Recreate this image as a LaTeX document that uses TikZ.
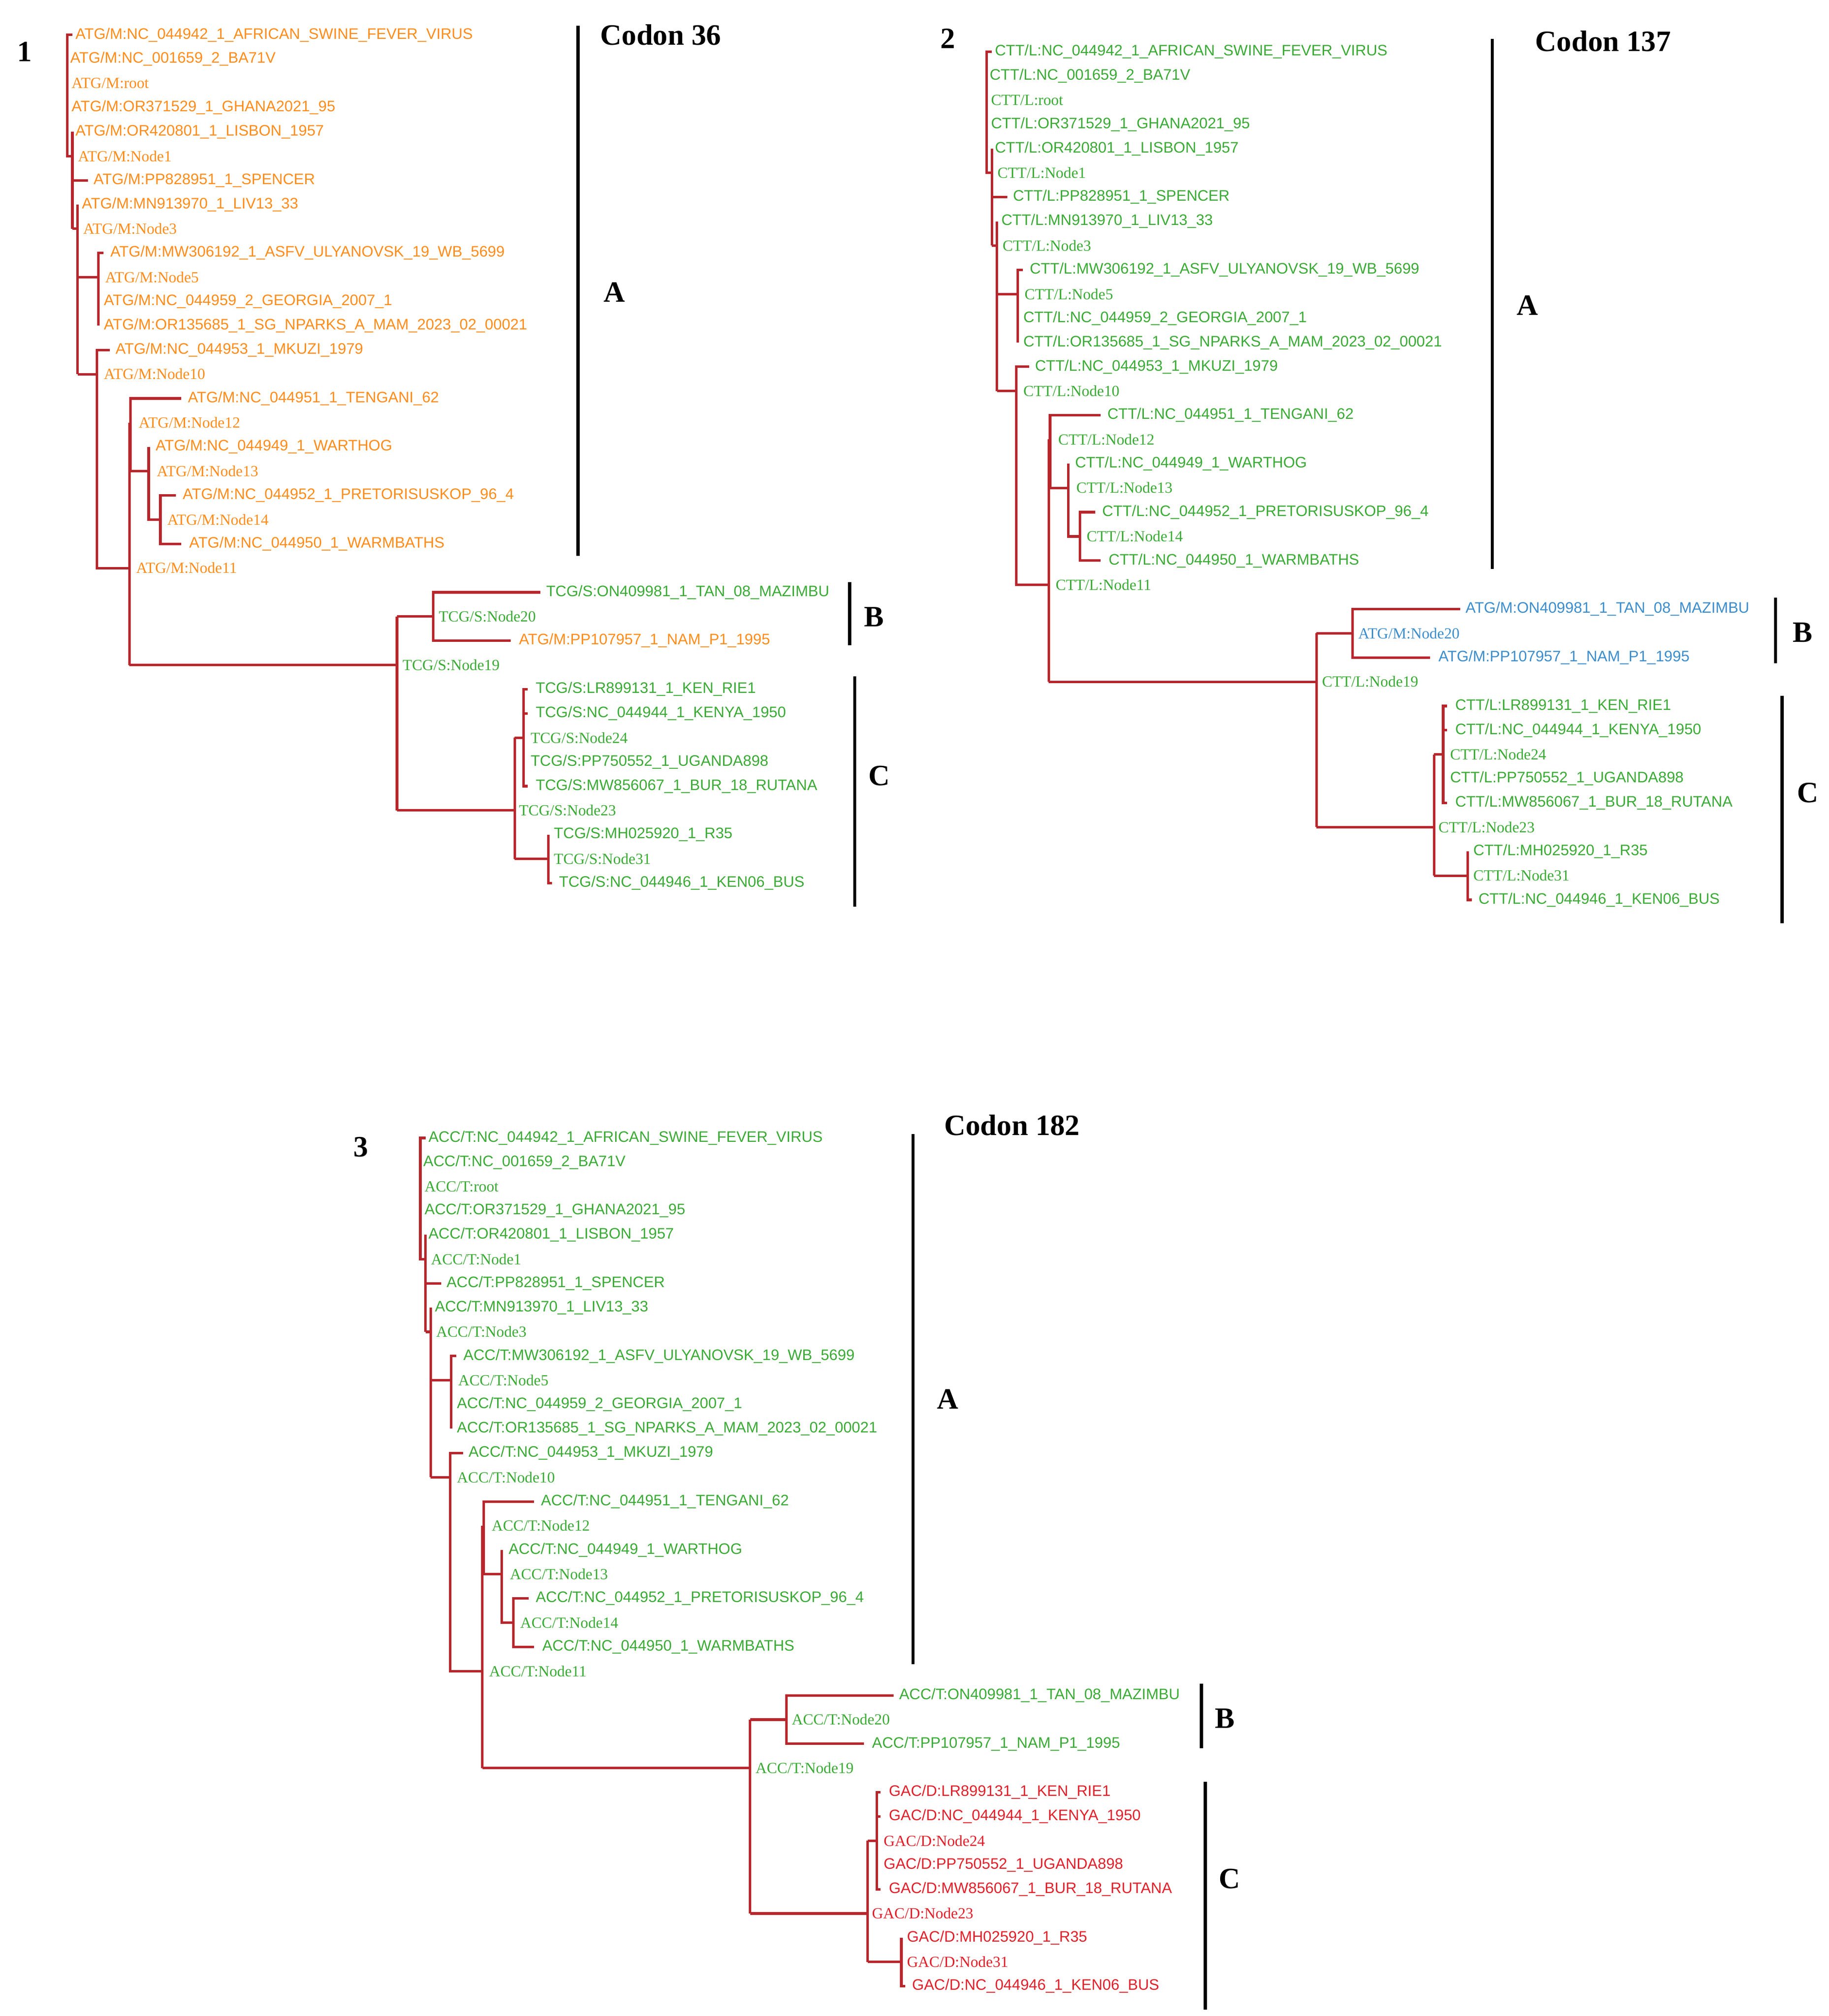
\documentclass[tikz,border=0pt]{standalone}
\usepackage{fontspec}
\setmainfont{Liberation Serif}
\newfontfamily\arialf{Liberation Sans}
\definecolor{orng}{HTML}{FF8C1A}
\definecolor{grn}{HTML}{3AAA35}
\definecolor{blu}{HTML}{3C8DCB}
\definecolor{rd}{HTML}{E0202A}
\definecolor{brc}{HTML}{B8262C}
\begin{document}
\begin{tikzpicture}[x=0.02cm,y=-0.02cm,
  br/.style={draw=brc,line width=1.1pt},
  bar/.style={draw=black,line width=1.4pt},
  lf/.style={anchor=west,inner sep=0pt,font=\arialf\fontsize{6.7}{8}\selectfont},
  nd/.style={anchor=west,inner sep=0pt,font=\fontsize{6.8}{8}\selectfont},
  big/.style={inner sep=0pt,font=\bfseries\fontsize{13}{15}\selectfont}]
\useasboundingbox (0,0) rectangle (1414,1559);
\newcommand\rr[1]{\fpeval{27+18.74*(#1)}}
\newcommand\branches{%
\draw[br] (56,\rr{0}) -| (52,\rr{5}) -- (56,\rr{5});
\draw[br] (56,\rr{4}) -- (56,\rr{8});
\draw[br] (56,\rr{6}) -- (68,\rr{6});
\draw[br] (56,\rr{8}) -- (60,\rr{8});
\draw[br] (60,\rr{7}) -- (60,\rr{14});
\draw[br] (60,\rr{10}) -- (76,\rr{10});
\draw[br] (80,\rr{9}) -| (76,\rr{12});
\draw[br] (60,\rr{14}) -- (75,\rr{14});
\draw[br] (85,\rr{13}) -| (75,\rr{22}) -- (100,\rr{22});
\draw[br] (100,\rr{16}) -- (100,\rr{26});
\draw[br] (140,\rr{15}) -| (101,\rr{18}) -- (115,\rr{18});
\draw[br] (115,\rr{17}) -- (115,\rr{20}) -- (124,\rr{20});
\draw[br] (136,\rr{19}) -| (124,\rr{21}) -- (140,\rr{21});
\draw[br] (100,\rr{26}) -- (307,\rr{26});
\draw[br] (307,\rr{24}) -- (307,\rr{32});
\draw[br] (307,\rr{24}) -- (335,\rr{24});
\draw[br] (418,\rr{23}) -| (335,\rr{25}) -- (395,\rr{25});
\draw[br] (307,\rr{32}) -- (398,\rr{32});
\draw[br] (398,\rr{29}) -- (398,\rr{34});
\draw[br] (398,\rr{29}) -- (405,\rr{29});
\draw[br] (408,\rr{27}) -| (405,\rr{31}) -- (408,\rr{31});
\draw[br] (405,\rr{28}) -- (408,\rr{28});
\draw[br] (398,\rr{34}) -- (424,\rr{34});
\draw[br] (424,\rr{33}) -- (424,\rr{35}) -- (427,\rr{35});
}
\def\labs{0/58/NC\_044942\_1\_AFRICAN\_SWINE\_FEVER\_VIRUS/l,1/54/NC\_001659\_2\_BA71V/l,2/55/root/n,3/55/OR371529\_1\_GHANA2021\_95/l,4/58/OR420801\_1\_LISBON\_1957/l,5/60/Node1/n,6/72/PP828951\_1\_SPENCER/l,7/63/MN913970\_1\_LIV13\_33/l,8/64/Node3/n,9/85/MW306192\_1\_ASFV\_ULYANOVSK\_19\_WB\_5699/l,10/81/Node5/n,11/80/NC\_044959\_2\_GEORGIA\_2007\_1/l,12/80/OR135685\_1\_SG\_NPARKS\_A\_MAM\_2023\_02\_00021/l,13/89/NC\_044953\_1\_MKUZI\_1979/l,14/80/Node10/n,15/145/NC\_044951\_1\_TENGANI\_62/l,16/107/Node12/n,17/120/NC\_044949\_1\_WARTHOG/l,18/121/Node13/n,19/141/NC\_044952\_1\_PRETORISUSKOP\_96\_4/l,20/129/Node14/n,21/146/NC\_044950\_1\_WARMBATHS/l,22/105/Node11/n,23/422/ON409981\_1\_TAN\_08\_MAZIMBU/l,24/339/Node20/n,25/401/PP107957\_1\_NAM\_P1\_1995/l,26/311/Node19/n,27/414/LR899131\_1\_KEN\_RIE1/l,28/414/NC\_044944\_1\_KENYA\_1950/l,29/410/Node24/n,30/410/PP750552\_1\_UGANDA898/l,31/414/MW856067\_1\_BUR\_18\_RUTANA/l,32/401/Node23/n,33/428/MH025920\_1\_R35/l,34/428/Node31/n,35/432/NC\_044946\_1\_KEN06\_BUS/l}
\newcommand\labels[2]{%
\foreach \i/\x/\nm/\ty in \labs {
  #2
  \pgfmathsetmacro\yy{27+18.74*\i}
  \if l\ty \node[lf,text=\col] (#1r\i) at (\x,\yy) {\pre:\nm};
  \else \node[nd,text=\col] (#1r\i) at (\x,\yy) {\pre:\nm};\fi
}}
\begin{scope}
\branches
\labels{a}{\ifnum\i<23 \def\pre{ATG/M}\def\col{orng}\else\ifnum\i=25 \def\pre{ATG/M}\def\col{orng}\else\def\pre{TCG/S}\def\col{grn}\fi\fi}
\end{scope}
\begin{scope}[shift={(711,13)}]
\branches
\labels{b}{\ifnum\i<23 \def\pre{CTT/L}\def\col{grn}\else\ifnum\i<26 \def\pre{ATG/M}\def\col{blu}\else\def\pre{CTT/L}\def\col{grn}\fi\fi}
\end{scope}
\begin{scope}[shift={(273,853)}]
\branches
\labels{c}{\ifnum\i<27 \def\pre{ACC/T}\def\col{grn}\else\def\pre{GAC/D}\def\col{rd}\fi}
\end{scope}
\node[big] (n1) at (19,40) {1};
\node[big,anchor=west] (h1) at (464,27) {Codon 36};
\coordinate (a1t) at (447,20); \coordinate (a1b) at (447,430); \draw[bar] (a1t)--(a1b);
\node[big] (A1) at (475,226) {A};
\coordinate (b1t) at (657,450); \coordinate (b1b) at (657,499); \draw[bar] (b1t)--(b1b);
\node[big] (B1) at (676,477) {B};
\coordinate (c1t) at (661,523); \coordinate (c1b) at (661,701); \draw[bar] (c1t)--(c1b);
\node[big] (C1) at (680,600) {C};
\node[big] (n2) at (733,30) {2};
\node[big,anchor=west] (h2) at (1187,32) {Codon 137};
\coordinate (a2t) at (1154,30); \coordinate (a2b) at (1154,440); \draw[bar] (a2t)--(a2b);
\node[big] (A2) at (1181,236) {A};
\coordinate (b2t) at (1373,462); \coordinate (b2b) at (1373,513); \draw[bar] (b2t)--(b2b);
\node[big] (B2) at (1394,489) {B};
\coordinate (c2t) at (1378,538); \coordinate (c2b) at (1378,714); \draw[bar] (c2t)--(c2b);
\node[big] (C2) at (1398,613) {C};
\node[big] (n3) at (279,887) {3};
\node[big,anchor=west] (h3) at (730,870) {Codon 182};
\coordinate (a3t) at (706,877); \coordinate (a3b) at (706,1287); \draw[bar] (a3t)--(a3b);
\node[big] (A3) at (733,1082) {A};
\coordinate (b3t) at (929,1302); \coordinate (b3b) at (929,1352); \draw[bar] (b3t)--(b3b);
\node[big] (B3) at (947,1329) {B};
\coordinate (c3t) at (932,1378); \coordinate (c3b) at (932,1554); \draw[bar] (c3t)--(c3b);
\node[big] (C3) at (951,1453) {C};
\end{tikzpicture}
\end{document}
